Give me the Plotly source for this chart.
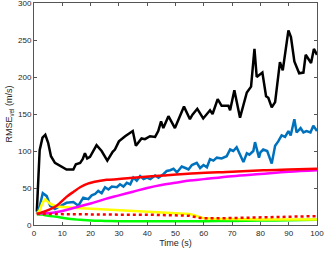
import plotly.graph_objects as go

# Black series
t_black = [1, 2, 3, 4, 5, 6, 7.4, 9.2, 11.5, 13.9, 14.8, 16.3, 17.2, 18, 18.8, 19.8, 22.1, 23.9, 25.9, 27.8, 28.6,
           30, 32.2, 34.9, 36, 38, 39.2, 41, 42.8, 43.9, 44.9, 45.7, 47.5, 49.8, 53, 55.1, 56, 57.7, 59.8, 62.2, 63.1,
           64.9, 66.3, 68.7, 69.3, 70.8, 72.8, 75.2, 76.7, 77.9, 78.7, 80.7, 82, 82.8, 84, 85.2, 86.9, 87.9, 89.9,
           90.8, 92, 93.7, 95.2, 96, 97.9, 98.9, 100]
v_black = [18, 101, 118, 122, 111, 93, 84, 80, 75, 75, 82, 84, 89, 97, 90, 92, 108, 100, 87, 99, 102,
           113, 120, 127, 107, 117, 116, 120, 119, 127, 140, 131, 147, 131, 160, 143, 149, 157, 144, 155, 150,
           170, 161, 161, 155, 182, 145, 179, 187, 238, 200, 206, 174, 172, 159, 166, 220, 209, 263,
           254, 221, 205, 206, 230, 219, 238, 230]

# Blue series
t_blue = [1, 2, 3.1, 4.5, 5.7, 7.4, 8.5, 10, 11.5, 13.9, 15.7, 17.4, 19.2, 20.4, 21.6, 22.7, 23.9, 25.1, 26.3, 27.5,
          29.3, 30.4, 31.6, 32.8, 34, 35.1, 36.3, 37.5, 38.7, 39.9, 41.1, 42.8, 44, 45.8, 46.9, 48.1, 49.3, 50.5,
          52.2, 53.5, 54.6, 55.8, 57.5, 58.7, 59.9, 61.1, 62.2, 63.4, 64.6, 66.3, 68.1, 69.3, 70.4, 71.6, 74, 75.2,
          76.1, 77.5, 78.1, 79.5, 80, 81, 82.4, 84, 85.2, 86.3, 87.5, 88.7, 89.9, 90.7, 92, 92.8, 94.2, 95.2, 96.3,
          97.7, 98.7, 100]
v_blue = [15, 25, 43, 39, 26, 21.5, 24, 27, 30, 31, 26, 37, 35, 40, 42, 46, 43, 51, 48, 52,
          51, 55, 52, 57, 55, 64, 60, 66, 62, 64, 62, 67, 64, 69, 73, 74, 76, 71,
          79, 77, 75, 81, 84, 77, 81, 78, 89, 87, 91, 90, 93, 102, 100, 105, 85, 97,
          95, 100, 112, 91, 98, 102, 100, 83, 107, 113, 121, 119, 127, 121, 143, 125, 131, 125, 127,
          125, 134, 127]

# Red solid series
t_red = [1, 2.7, 5, 8, 11.5, 14, 16.3, 19, 21, 25.7, 30, 34, 45.8, 57.5, 70, 81, 90, 100]
v_red = [15, 17, 20, 26, 38, 45, 51, 56, 58, 61, 62, 63.5, 67, 70, 72, 74, 75, 76]

# Magenta series
t_mag = [1, 3, 5, 10, 15, 20, 25, 30, 35, 40, 45, 50, 55, 60, 70, 80, 90, 100]
v_mag = [15, 16, 16, 19, 24, 29, 35, 40, 45, 50, 54, 57, 60, 62, 66, 69, 72, 74]

# Yellow series
t_yel = [1, 2, 3, 4, 5, 6, 8, 10.4, 15, 22, 28, 34, 42, 51.6, 55, 56.3, 58.7, 60, 63.4, 70, 80, 90, 100]
v_yel = [15, 20, 30, 35, 31, 28, 25, 24, 23, 21.5, 20, 19, 17.5, 15.7, 15, 13.5, 10, 9, 8.5, 8, 7.5, 7.5, 7.5]

# Red dotted series
t_rdot = [1, 10, 20, 30, 40, 50, 55, 58, 60, 65, 70, 80, 90, 100]
v_rdot = [15, 14.5, 14, 14, 14, 13.5, 12.5, 10, 9, 9, 9.5, 10, 11, 12]

# Green series
t_grn = [1, 3, 5, 8, 10.4, 13, 16.3, 20, 25, 30, 40, 50, 60, 70, 80, 90, 100]
v_grn = [15, 14, 12.5, 11, 9.5, 8, 7, 6, 5.5, 5.2, 5, 5, 5.2, 5.5, 6, 6.5, 7]

x_ticks = [0, 10, 20, 30, 40, 50, 60, 70, 80, 90, 100]
y_ticks = [0, 50, 100, 150, 200, 250, 300]

FONT = "Liberation Sans, Arial, sans-serif"

fig = go.Figure()
fig.add_trace(go.Scatter(x=t_black, y=v_black, mode="lines", line=dict(color="black", width=2.5)))
fig.add_trace(go.Scatter(x=t_blue, y=v_blue, mode="lines", line=dict(color="#0072BD", width=2.5)))
fig.add_trace(go.Scatter(x=t_grn, y=v_grn, mode="lines", line=dict(color="#00FF00", width=2.5, shape="spline")))
fig.add_trace(go.Scatter(x=t_yel, y=v_yel, mode="lines", line=dict(color="#FFFF00", width=2.5)))
fig.add_trace(go.Scatter(x=t_mag, y=v_mag, mode="lines", line=dict(color="#FF00FF", width=2.5, shape="spline")))
fig.add_trace(go.Scatter(x=t_red, y=v_red, mode="lines", line=dict(color="#FF0000", width=2.5, shape="spline")))
fig.add_trace(go.Scatter(x=t_rdot, y=v_rdot, mode="lines", line=dict(color="#FF0000", width=2.5, dash="dot")))

axis_common = dict(
    showline=True, linecolor="#555555", linewidth=1, mirror="ticks",
    ticks="inside", ticklen=3, tickcolor="#555555",
    showgrid=False, zeroline=False, automargin=False,
    ticklabeloverflow="allow",
    tickfont=dict(family=FONT, size=8, color="#262626"),
)
fig.update_xaxes(range=[0, 100], tickvals=x_ticks,
                 title=dict(text="Time (s)", font=dict(family=FONT, size=9, color="#262626"), standoff=3),
                 **axis_common)
fig.update_yaxes(range=[0, 300], tickvals=y_ticks,
                 title=dict(text="RMSE<sub>vel</sub> (m/s)", font=dict(family=FONT, size=9, color="#262626"), standoff=3),
                 **axis_common)
fig.update_layout(
    width=327, height=256,
    margin=dict(l=34, r=10, t=3, b=31, autoexpand=False),
    showlegend=False,
    plot_bgcolor="white", paper_bgcolor="white",
)
fig.write_html("out.html", config={"displayModeBar": False},
               post_script="document.body.style.margin='0';document.body.style.overflow='hidden';")
